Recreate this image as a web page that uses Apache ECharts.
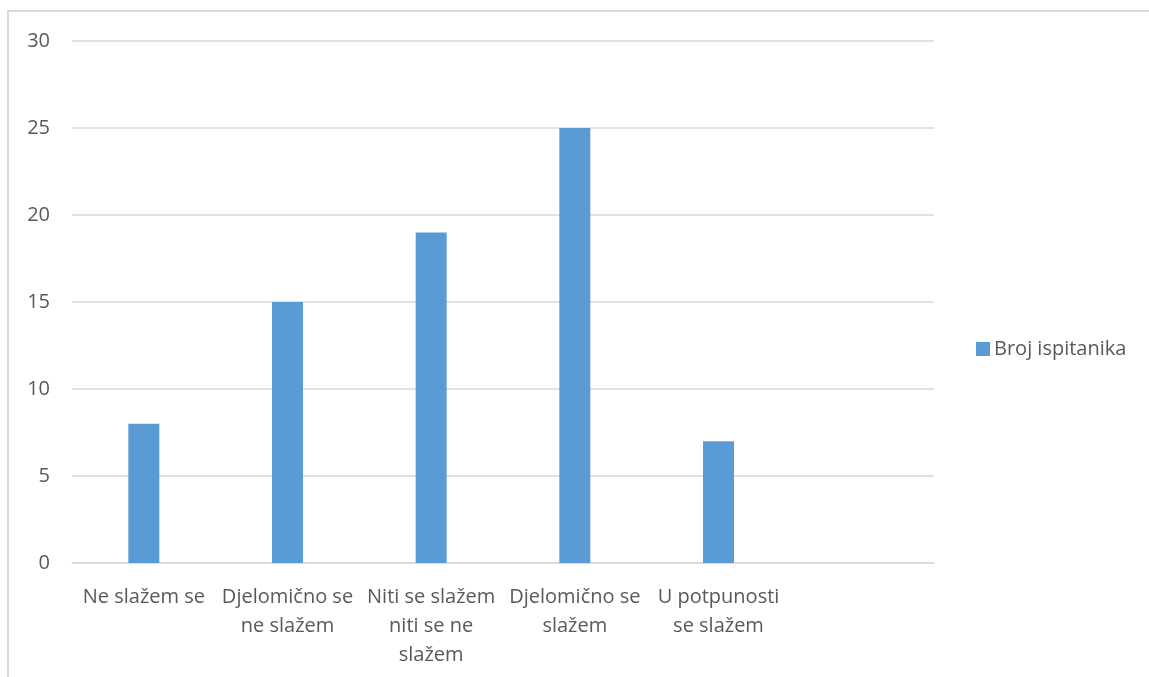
<!DOCTYPE html>
<html>
<head>
<meta charset="utf-8">
<script src="https://cdn.jsdelivr.net/npm/echarts@6/dist/echarts.min.js"></script>
<style>
html,body{margin:0;padding:0;background:#fff;}
#chart{width:1149px;height:677px;}
</style>
</head>
<body>
<div id="chart"></div>
<script>
var categories = ['Ne slažem se', 'Djelomično se\nne slažem', 'Niti se slažem\nniti se ne\nslažem', 'Djelomično se\nslažem', 'U potpunosti\nse slažem', ''];
var seriesName = 'Broj ispitanika';
var values = [8, 15, 19, 25, 7, null];
var yTicks = [0, 5, 10, 15, 20, 25, 30];

var chart = echarts.init(document.getElementById('chart'));
var font = '"Open Sans", "Noto Sans", sans-serif';
chart.setOption({
  animation: false,
  backgroundColor: '#ffffff',
  textStyle: { fontFamily: font },
  graphic: [{
    type: 'rect',
    shape: { x: 8, y: 11, width: 1300, height: 800 },
    style: { fill: 'none', stroke: '#d9d9d9', lineWidth: 2 },
    silent: true
  }],
  grid: { left: 72, right: 215, top: 41, bottom: 114 },
  legend: {
    data: [seriesName],
    left: 971,
    top: 334,
    orient: 'vertical',
    icon: 'rect',
    itemWidth: 14,
    itemHeight: 14,
    itemGap: 6,
    textStyle: { fontFamily: font, fontSize: 20, color: '#595959', padding: [0, 0, 0, -1] }
  },
  xAxis: {
    type: 'category',
    data: categories,
    axisLine: { show: true, lineStyle: { color: '#d9d9d9', width: 1.5 } },
    axisTick: { show: false },
    axisLabel: {
      interval: 0,
      color: '#595959',
      fontFamily: font,
      fontSize: 20,
      lineHeight: 29,
      margin: 20
    }
  },
  yAxis: {
    type: 'value',
    min: yTicks[0],
    max: yTicks[yTicks.length - 1],
    interval: 5,
    axisLine: { show: false },
    axisTick: { show: false },
    splitLine: { lineStyle: { color: '#d9d9d9', width: 1.5 } },
    axisLabel: {
      color: '#595959',
      fontFamily: font,
      fontSize: 20,
      margin: 22
    }
  },
  series: [{
    name: seriesName,
    type: 'bar',
    data: values,
    barWidth: 31,
    itemStyle: { color: '#5b9bd5' }
  }]
});
</script>
</body>
</html>
